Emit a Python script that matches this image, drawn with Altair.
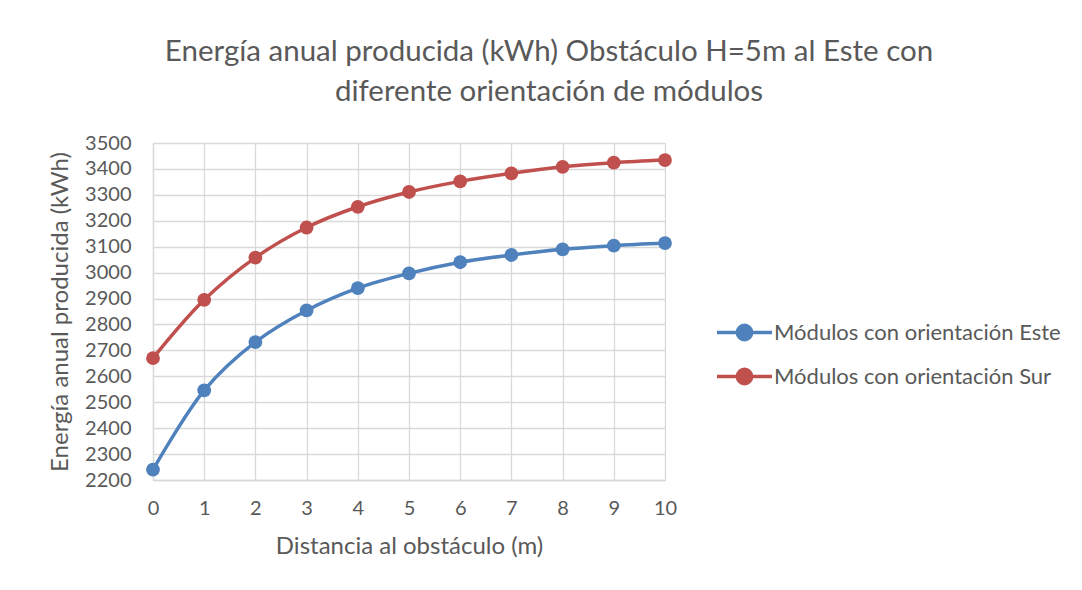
import altair as alt
import pandas as pd

distancia = list(range(11))
este = [2240, 2546, 2732, 2854, 2940, 2997, 3040, 3068, 3090, 3104, 3114]
sur = [2670, 2895, 3058, 3174, 3254, 3311, 3352, 3383, 3408, 3424, 3434]
series_names = ["Módulos con orientación Este", "Módulos con orientación Sur"]
series_colors = ["#4F81BD", "#C0504D"]
y_ticks = list(range(2200, 3501, 100))
title_lines = ["Energía anual producida (kWh) Obstáculo H=5m al Este con",
               "diferente orientación de módulos"]

rows = []
for name, vals in zip(series_names, [este, sur]):
    for d, v in zip(distancia, vals):
        rows.append({"Distancia": d, "Energia": v, "Serie": name})
df = pd.DataFrame(rows)

FONT = "Lato"
TXT = "#595959"
symbol_path = "M-1,0H1M-0.26,0A0.26,0.26 0 1,0 0.26,0A0.26,0.26 0 1,0 -0.26,0"

legend = alt.Legend(
    title=None, orient="none", legendX=562, legendY=160,
    symbolType=symbol_path, symbolSize=3025, symbolStrokeWidth=3.5,
    labelFontSize=22, labelColor=TXT, labelFont=FONT, labelOffset=0,
    labelLimit=500, rowPadding=0,
)

base = alt.Chart(df).encode(
    x=alt.X("Distancia:Q", scale=alt.Scale(domain=[0, 10], nice=False),
            axis=alt.Axis(values=distancia, title="Distancia al obstáculo (m)",
                          format="d", labelPadding=18, titlePadding=16,
                          labelFlush=False)),
    y=alt.Y("Energia:Q", scale=alt.Scale(domain=[2200, 3500], nice=False, zero=False),
            axis=alt.Axis(values=y_ticks, title="Energía anual producida (kWh)",
                          format="d", labelPadding=22, titlePadding=12,
                          labelFlush=False)),
    color=alt.Color("Serie:N", scale=alt.Scale(domain=series_names, range=series_colors),
                    legend=legend),
)

line = base.mark_line(interpolate="catmull-rom", strokeWidth=3.5)
points = base.mark_circle(size=190, opacity=1)

chart = alt.layer(line, points).properties(
    width=512, height=337,
    autosize=alt.AutoSizeParams(type="none"),
    padding={"left": 145, "top": 135, "right": 400, "bottom": 95},
    title=alt.Title(title_lines, anchor="middle", dx=140, fontSize=29.5, font=FONT,
                    fontWeight="normal", color=TXT, lineHeight=40, offset=26),
).configure_view(stroke=None).configure_axis(
    grid=True, gridColor="#D9D9D9", gridWidth=1.3,
    domainColor="#D9D9D9", domainWidth=1.3, ticks=False,
    labelFont=FONT, labelFontSize=20, labelColor=TXT,
    titleFont=FONT, titleFontSize=24, titleColor=TXT, titleFontWeight="normal",
)

chart.save("out.html", embed_options={"renderer": "svg", "actions": False})
